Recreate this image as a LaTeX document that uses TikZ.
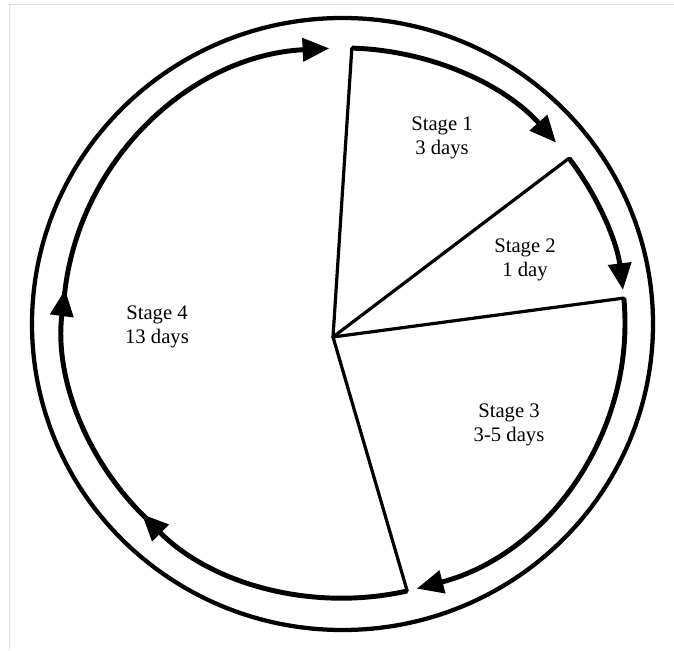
\documentclass[tikz,border=0pt]{standalone}
\usepackage{fontspec}
\setmainfont{Liberation Serif}
\usetikzlibrary{arrows.meta}

\tikzset{
  ring/.style={line width=3.2pt},
  spoke/.style={line width=2.4pt,line cap=round},
  cyc/.style={line width=3.7pt,line join=round,-{Triangle[length=20pt,width=17pt]}},
  stagelbl/.style={align=center,font=\fontsize{15.5}{18.5}\selectfont},
}

\begin{document}
\begin{tikzpicture}[x=0.75pt,y=0.75pt]
  \useasboundingbox (0,0) rectangle (674,650);
  \draw[gray!25,line width=0.75pt] (9,0)--(9,645)--(674,645);
  % outer ring
  \draw[ring] (342.5,326) ellipse [x radius=310.5,y radius=306];
  % hub, inner centre, spoke ends
  \coordinate (hub) at (333,313);
  \coordinate (c) at (344,327);
  \foreach \n/\a in {1/88.4,2/36.8,3/5.2,4/-77,5/-132,6/-183}
    \coordinate (s\n) at ([shift={(\a:281 and 275)}]c);
  % spokes
  \foreach \n in {1,...,4}
    \draw[spoke] (hub) -- (s\n);
  % cycle arcs
  \draw[cyc] (s1) arc[start angle=88.4,end angle=41,x radius=281,y radius=275];
  \draw[cyc] (s2) arc[start angle=36.8,end angle=6.9,x radius=281,y radius=275];
  \draw[cyc] (s3) arc[start angle=5.2,end angle=-75,x radius=281,y radius=275];
  \draw[cyc] (s4) arc[start angle=-77,end angle=-136,x radius=281,y radius=275];
  \draw[cyc] (s5) arc[start angle=-132,end angle=-187,x radius=281,y radius=275];
  \draw[cyc] (s6) arc[start angle=-183,end angle=-267,x radius=281,y radius=275];
  % labels
  \node[stagelbl] (st1) at (442,512) {Stage 1\\3 days};
  \node[stagelbl] (st2) at (525,390) {Stage 2\\1 day};
  \node[stagelbl] (st3) at (509,225) {Stage 3\\3-5 days};
  \node[stagelbl] (st4) at (157,323) {Stage 4\\13 days};
\end{tikzpicture}
\end{document}
